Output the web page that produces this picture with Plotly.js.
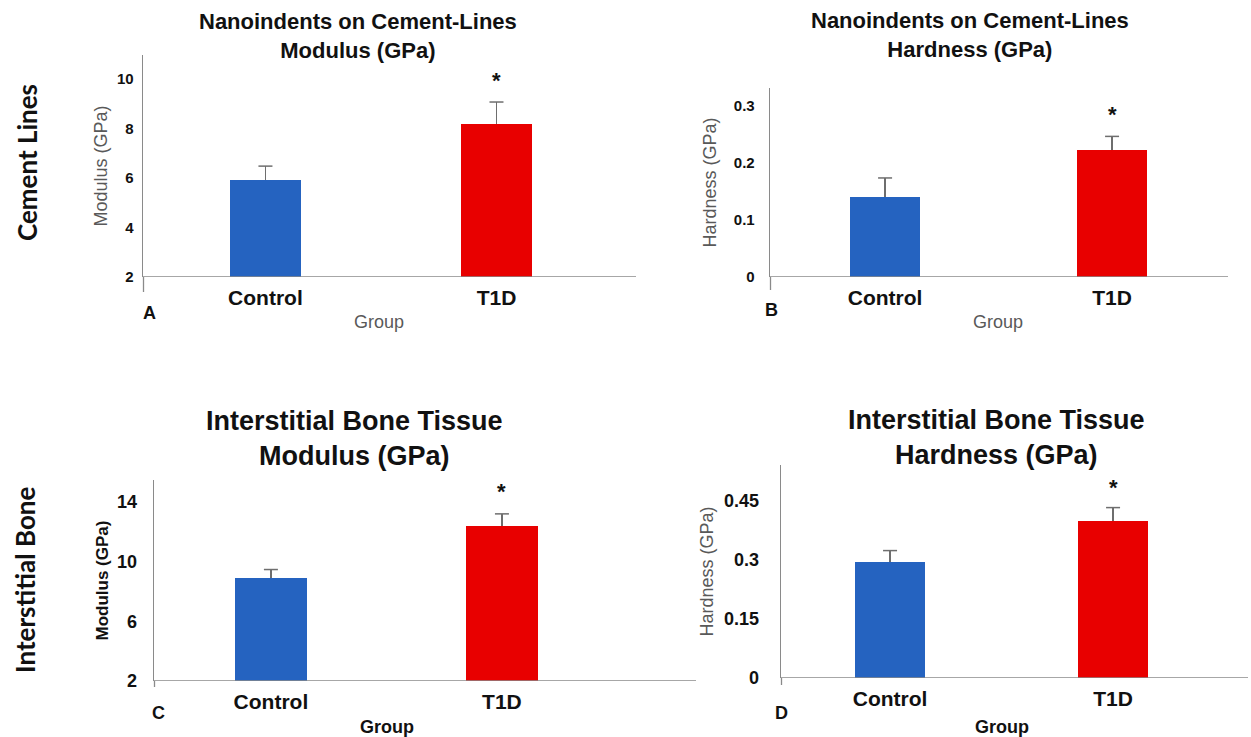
<!DOCTYPE html>
<html>
<head>
<meta charset="utf-8">
<script src="https://cdn.plot.ly/plotly-3.0.1.min.js"></script>
<style>html,body{margin:0;padding:0;background:#fff;}#chart{width:1251px;height:737px;}</style>
</head>
<body>
<div id="chart"></div>
<script>
// ---- data ----
const groups = ["Control", "T1D"];
const barColors = ["#2563c0", "#e80000"];

const cementModulus = [5.92, 8.18];
const cementModulusErr = [0.56, 0.89];
const cementHardness = [0.140, 0.223];
const cementHardnessErr = [0.034, 0.024];
const interModulus = [8.87, 12.4];
const interModulusErr = [0.6, 0.8];
const interHardness = [0.295, 0.397];
const interHardnessErr = [0.028, 0.035];

const tickA = [2, 4, 6, 8, 10];
const tickB = [0, 0.1, 0.2, 0.3];
const tickC = [2, 6, 10, 14];
const tickD = [0, 0.15, 0.3, 0.45];

const baseA = 2, baseB = 0, baseC = 2, baseD = 0;

const FONT = "Liberation Sans, Arial, sans-serif";
const ERR_COLOR = "#6e6e6e";

function barTrace(vals, errs, base, xa, ya) {
  return {
    type: "bar",
    x: groups,
    y: vals.map(v => v - base),
    base: vals.map(() => base),
    width: vals.map(() => 0.31),
    marker: {color: barColors, line: {width: 0}},
    error_y: {type: "data", symmetric: false, array: errs, arrayminus: errs.map(() => 0),
              color: ERR_COLOR, thickness: 1.5, width: 0},
    xaxis: xa, yaxis: ya,
    hoverinfo: "skip", showlegend: false
  };
}
// caps on top of the error bars only
function capTrace(vals, errs, xa, ya) {
  return {
    type: "scatter", mode: "markers",
    x: groups,
    y: vals.map((v, i) => v + errs[i]),
    marker: {symbol: "line-ew", size: 10, line: {width: 1.5, color: ERR_COLOR}, color: ERR_COLOR},
    xaxis: xa, yaxis: ya,
    hoverinfo: "skip", showlegend: false, cliponaxis: false
  };
}

const traces = [
  barTrace(cementModulus, cementModulusErr, baseA, "x", "y"),
  barTrace(cementHardness, cementHardnessErr, baseB, "x2", "y2"),
  barTrace(interModulus, interModulusErr, baseC, "x3", "y3"),
  barTrace(interHardness, interHardnessErr, baseD, "x4", "y4"),
  capTrace(cementModulus, cementModulusErr, "x", "y"),
  capTrace(cementHardness, cementHardnessErr, "x2", "y2"),
  capTrace(interModulus, interModulusErr, "x3", "y3"),
  capTrace(interHardness, interHardnessErr, "x4", "y4")
];

function xaxis(domain, range, anchor, titleColor, titleBold, standoff) {
  return {
    domain: domain, range: range, anchor: anchor, type: "category",
    showline: false, showgrid: false, zeroline: false, ticks: "",
    tickfont: {family: FONT, size: 21, color: "#111", weight: "bold"},
    ticklabelstandoff: 6,
    title: {text: "Group", standoff: standoff, font: {family: FONT, size: 18, color: titleColor, weight: titleBold ? "bold" : "normal"}},
    fixedrange: true
  };
}
function yaxis(domain, range, anchor, tickvals, tickSize, standoff, title, titleColor, titleBold, titleStandoff) {
  return {
    domain: domain, range: range, anchor: anchor,
    tickvals: tickvals, ticks: "",
    showline: true, linecolor: "#8a8a8a", linewidth: 1.3,
    showgrid: false, zeroline: false,
    tickfont: {family: FONT, size: tickSize, color: "#111", weight: "bold"},
    ticklabelstandoff: standoff,
    title: {text: title, standoff: titleStandoff, font: {family: FONT, size: titleBold ? 17 : 18, color: titleColor, weight: titleBold ? "bold" : "normal"}},
    fixedrange: true
  };
}

const W = 1251, H = 737;
const px = v => v / W, py = v => 1 - v / H;

const layout = {
  width: W, height: H,
  margin: {l: 0, r: 0, t: 0, b: 0},
  paper_bgcolor: "#fff", plot_bgcolor: "rgba(0,0,0,0)",
  showlegend: false,
  bargap: 0,
  xaxis:  xaxis([px(143), px(615)], [-0.53, 1.513], "y", "#595959", false, 7),
  yaxis:  yaxis([py(277), py(55)], [2, 10.97], "x", tickA, 15, 5, "Modulus (GPa)", "#595959", false, 4),
  xaxis2: xaxis([px(770), px(1226)], [-0.507, 1.502], "y2", "#595959", false, 7),
  yaxis2: yaxis([py(277), py(88)], [0, 0.332], "x2", tickB, 15, 11, "Hardness (GPa)", "#595959", false, 12),
  xaxis3: xaxis([px(154), px(620)], [-0.506, 1.511], "y3", "#111", true, 17),
  yaxis3: yaxis([py(681), py(480)], [2, 15.47], "x3", tickC, 18, 12, "Modulus (GPa)", "#111", true, 4),
  xaxis4: xaxis([px(781), px(1223)], [-0.489, 1.493], "y4", "#111", true, 15),
  yaxis4: yaxis([py(678), py(465)], [0, 0.54], "x4", tickD, 18, 17, "Hardness (GPa)", "#595959", false, 5),
  shapes: [
    // x-axis baselines
    {type: "line", xref: "paper", yref: "y",  x0: px(143), x1: px(636),  y0: baseA, y1: baseA, line: {color: "#8a8a8a", width: 1.3}},
    {type: "line", xref: "paper", yref: "y2", x0: px(770), x1: px(1228), y0: baseB, y1: baseB, line: {color: "#8a8a8a", width: 1.3}},
    {type: "line", xref: "paper", yref: "y3", x0: px(154), x1: px(696),  y0: baseC, y1: baseC, line: {color: "#8a8a8a", width: 1.3}},
    {type: "line", xref: "paper", yref: "y4", x0: px(781), x1: px(1248), y0: baseD, y1: baseD, line: {color: "#8a8a8a", width: 1.3}},
    // y-axis extensions below baseline
    {type: "line", xref: "paper", yref: "paper", x0: px(143.5), x1: px(143.5), y0: py(292), y1: py(277), line: {color: "#8a8a8a", width: 1.3}},
    {type: "line", xref: "paper", yref: "paper", x0: px(770.5), x1: px(770.5), y0: py(290), y1: py(277), line: {color: "#8a8a8a", width: 1.3}},
    {type: "line", xref: "paper", yref: "paper", x0: px(154.5), x1: px(154.5), y0: py(687), y1: py(681), line: {color: "#8a8a8a", width: 1.3}},
    {type: "line", xref: "paper", yref: "paper", x0: px(781.5), x1: px(781.5), y0: py(685), y1: py(678), line: {color: "#8a8a8a", width: 1.3}}
  ],
  annotations: [
    {text: "Nanoindents on Cement-Lines<br>Modulus (GPa)", xref: "paper", yref: "paper", x: px(358), y: py(36), xanchor: "center", yanchor: "middle", showarrow: false, font: {family: FONT, size: 22, color: "#111", weight: "bold"}},
    {text: "Nanoindents on Cement-Lines<br>Hardness (GPa)", xref: "paper", yref: "paper", x: px(970), y: py(35), xanchor: "center", yanchor: "middle", showarrow: false, font: {family: FONT, size: 22, color: "#111", weight: "bold"}},
    {text: "Interstitial Bone Tissue<br>Modulus (GPa)", xref: "paper", yref: "paper", x: px(355), y: py(439), xanchor: "center", yanchor: "middle", showarrow: false, font: {family: FONT, size: 27, color: "#111", weight: "bold"}},
    {text: "Interstitial Bone Tissue<br>Hardness (GPa)", xref: "paper", yref: "paper", x: px(996), y: py(438), xanchor: "center", yanchor: "middle", showarrow: false, font: {family: FONT, size: 27, color: "#111", weight: "bold"}},
    {text: "A", xref: "paper", yref: "paper", x: px(149), y: py(313), xanchor: "center", yanchor: "middle", showarrow: false, font: {family: FONT, size: 18, color: "#111", weight: "bold"}},
    {text: "B", xref: "paper", yref: "paper", x: px(771), y: py(310), xanchor: "center", yanchor: "middle", showarrow: false, font: {family: FONT, size: 18, color: "#111", weight: "bold"}},
    {text: "C", xref: "paper", yref: "paper", x: px(159), y: py(713), xanchor: "center", yanchor: "middle", showarrow: false, font: {family: FONT, size: 18, color: "#111", weight: "bold"}},
    {text: "D", xref: "paper", yref: "paper", x: px(781), y: py(713), xanchor: "center", yanchor: "middle", showarrow: false, font: {family: FONT, size: 18, color: "#111", weight: "bold"}},
    {text: "Cement Lines", xref: "paper", yref: "paper", x: px(27), y: py(163), textangle: -90, xanchor: "center", yanchor: "middle", showarrow: false, font: {family: "Lato, Liberation Sans, sans-serif", size: 26, color: "#111", weight: "bold"}},
    {text: "Interstitial Bone", xref: "paper", yref: "paper", x: px(25), y: py(580), textangle: -90, xanchor: "center", yanchor: "middle", showarrow: false, font: {family: "Lato, Liberation Sans, sans-serif", size: 26, color: "#111", weight: "bold"}},
    // significance stars above T1D error bars
    {text: "*", xref: "x",  yref: "y",  x: groups[1], y: cementModulus[1] + cementModulusErr[1], yshift: 22, showarrow: false, font: {family: FONT, size: 22, color: "#111", weight: "bold"}},
    {text: "*", xref: "x2", yref: "y2", x: groups[1], y: cementHardness[1] + cementHardnessErr[1], yshift: 22, showarrow: false, font: {family: FONT, size: 22, color: "#111", weight: "bold"}},
    {text: "*", xref: "x3", yref: "y3", x: groups[1], y: interModulus[1] + interModulusErr[1], yshift: 22, showarrow: false, font: {family: FONT, size: 22, color: "#111", weight: "bold"}},
    {text: "*", xref: "x4", yref: "y4", x: groups[1], y: interHardness[1] + interHardnessErr[1], yshift: 20, showarrow: false, font: {family: FONT, size: 22, color: "#111", weight: "bold"}}
  ]
};

Plotly.newPlot("chart", traces, layout, {staticPlot: true, displayModeBar: false});
</script>
</body>
</html>
